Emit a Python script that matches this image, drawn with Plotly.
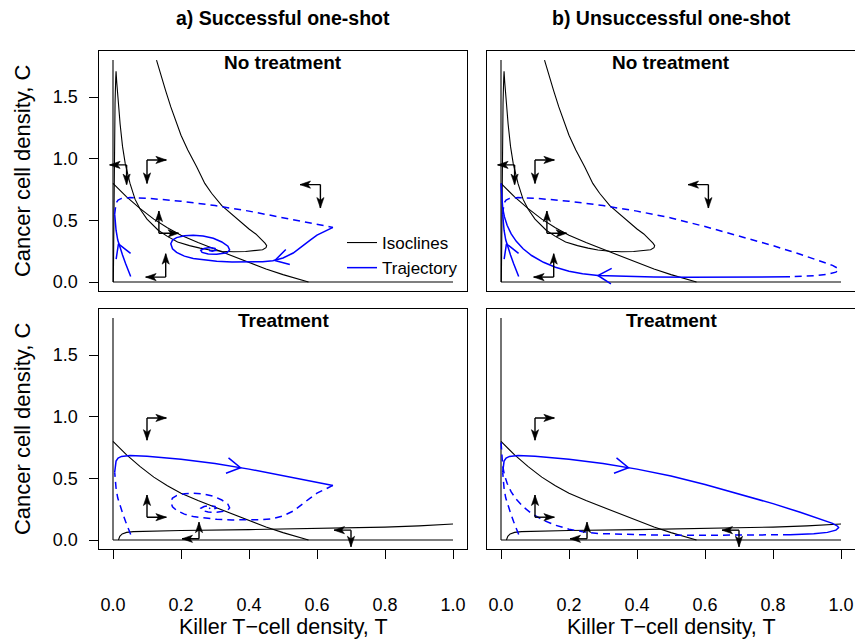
import math
import plotly.graph_objects as go

W, H = 855, 642
X_RANGE = [-0.04, 1.04]
Y_RANGE = [-0.072, 1.872]
COL_PX = [(99.4, 466.6), (487.4, 854.6)]
ROW_PX = [(51.2, 290.9), (309.2, 548.9)]
SX = (COL_PX[0][1] - COL_PX[0][0]) / (X_RANGE[1] - X_RANGE[0])
SY = (ROW_PX[0][1] - ROW_PX[0][0]) / (Y_RANGE[1] - Y_RANGE[0])

# ---------------- data ----------------
X_TICKS = [0.0, 0.2, 0.4, 0.6, 0.8, 1.0]
Y_TICKS = [0.0, 0.5, 1.0, 1.5]
COL_TITLES = ["a) Successful one-shot", "b) Unsuccessful one-shot"]
ROW_TITLES = ["No treatment", "Treatment"]

# trivial isoclines T = 0 and C = 0
AXIS_T = [0.0, 0.0]
AXIS_C = [0.0, 1.8]
BASE_T = [0.0, 1.0]
BASE_C = [0.0, 0.0]

# folded isocline (no treatment)
FOLD_T = [0.001, 0.002, 0.004, 0.006, 0.008, 0.009, 0.011, 0.014, 0.021, 0.028, 0.036,
          0.05, 0.065, 0.08, 0.10, 0.133, 0.16, 0.19, 0.225, 0.256, 0.285, 0.32, 0.354,
          0.39, 0.42, 0.44, 0.45, 0.452, 0.447, 0.435, 0.42, 0.40, 0.37, 0.34, 0.32,
          0.29, 0.27, 0.246, 0.22, 0.20, 0.187, 0.17, 0.155, 0.14, 0.128]
FOLD_C = [0.0, 0.5, 1.1, 1.45, 1.65, 1.71, 1.62, 1.50, 1.28, 1.10, 0.96,
          0.80, 0.67, 0.59, 0.51, 0.42, 0.37, 0.325, 0.295, 0.275, 0.26, 0.25, 0.246,
          0.248, 0.253, 0.262, 0.278, 0.295, 0.315, 0.345, 0.39, 0.43, 0.50, 0.57, 0.62,
          0.72, 0.80, 0.935, 1.07, 1.19, 1.287, 1.42, 1.55, 1.68, 1.80]

# descending isocline (both treatments)
DESC_T = [0.0, 0.04, 0.08, 0.12, 0.16, 0.20, 0.25, 0.30, 0.35, 0.40, 0.45, 0.50, 0.54, 0.575]
DESC_C = [0.80, 0.69, 0.595, 0.51, 0.44, 0.38, 0.32, 0.265, 0.21, 0.155, 0.105, 0.06, 0.025, 0.0]

# flat isocline (treatment)
FLAT_T = [0.016, 0.02, 0.027, 0.04, 0.06, 0.10, 0.20, 0.40, 0.60, 0.80, 0.90, 1.0]
FLAT_C = [0.0, 0.03, 0.05, 0.062, 0.068, 0.072, 0.077, 0.084, 0.092, 0.105, 0.115, 0.13]

# trajectory pieces
SEG_A_T = [0.052, 0.045, 0.037, 0.028, 0.02, 0.014, 0.009, 0.006, 0.005]
SEG_A_C = [0.045, 0.09, 0.15, 0.22, 0.28, 0.34, 0.42, 0.49, 0.55]

SEG_B_T = [0.005, 0.006, 0.009, 0.015, 0.025, 0.05, 0.10, 0.20, 0.30, 0.40, 0.50, 0.60, 0.647]
SEG_B_C = [0.55, 0.60, 0.64, 0.665, 0.678, 0.685, 0.68, 0.655, 0.62, 0.575, 0.52, 0.47, 0.443]

SEG_C_T = [0.647, 0.62, 0.60, 0.58, 0.56, 0.53, 0.50, 0.47, 0.44, 0.40, 0.35, 0.305, 0.26,
           0.236, 0.21, 0.187, 0.175, 0.17, 0.175, 0.187, 0.21, 0.236, 0.265, 0.295, 0.32,
           0.338, 0.343, 0.335, 0.305, 0.28, 0.262, 0.258, 0.268, 0.285, 0.30, 0.303, 0.292,
           0.283, 0.286]
SEG_C_C = [0.443, 0.41, 0.38, 0.34, 0.30, 0.235, 0.195, 0.173, 0.165, 0.162, 0.163, 0.168, 0.18,
           0.19, 0.21, 0.24, 0.27, 0.31, 0.34, 0.36, 0.375, 0.38, 0.373, 0.355, 0.325,
           0.29, 0.26, 0.237, 0.225, 0.227, 0.24, 0.257, 0.272, 0.28, 0.272, 0.258, 0.25,
           0.255, 0.262]

SEG_B2_T = [0.005, 0.006, 0.009, 0.015, 0.025, 0.05, 0.10, 0.20, 0.30, 0.40, 0.50, 0.60,
            0.70, 0.80, 0.88, 0.94, 0.975, 0.99, 0.993, 0.985, 0.96, 0.92, 0.85]
SEG_B2_C = [0.55, 0.60, 0.64, 0.665, 0.678, 0.685, 0.68, 0.655, 0.62, 0.575, 0.52, 0.45,
            0.375, 0.295, 0.225, 0.17, 0.135, 0.112, 0.10, 0.08, 0.062, 0.05, 0.043]

SEG_C2_T = [0.85, 0.75, 0.65, 0.55, 0.45, 0.38, 0.33, 0.285, 0.24, 0.20, 0.16, 0.125, 0.09,
            0.065, 0.045, 0.03, 0.018, 0.01, 0.005, 0.002, 0.0]
SEG_C2_C = [0.043, 0.04, 0.038, 0.038, 0.04, 0.043, 0.047, 0.053, 0.068, 0.088, 0.12, 0.16,
            0.215, 0.27, 0.33, 0.39, 0.46, 0.53, 0.60, 0.70, 0.80]

# direction chevrons on trajectories: tip T, tip C, point behind T, point behind C
CHEV_A = (0.016, 0.31, 0.026, 0.24)
CHEV_C = (0.476, 0.175, 0.51, 0.20)
CHEV_B = (0.375, 0.586, 0.30, 0.62)
CHEV_C2 = (0.285, 0.053, 0.33, 0.047)

# direction-field glyphs: corner T, corner C, horizontal arrow dT, vertical arrow dC
GLYPH_TOP_T = [0.04, 0.10, 0.61, 0.135, 0.155]
GLYPH_TOP_C = [0.95, 0.99, 0.79, 0.395, 0.04]
GLYPH_TOP_DT = [-0.05, 0.057, -0.06, 0.058, -0.059]
GLYPH_TOP_DC = [-0.16, -0.19, -0.19, 0.18, 0.19]

GLYPH_BOT_T = [0.10, 0.10, 0.253, 0.70]
GLYPH_BOT_C = [0.99, 0.185, 0.01, 0.08]
GLYPH_BOT_DT = [0.057, 0.057, -0.05, -0.05]
GLYPH_BOT_DC = [-0.18, 0.18, 0.135, -0.135]

# ---------------- figure ----------------
FONT = "Liberation Sans, Arial, Helvetica, sans-serif"
BLUE = "#0000FF"
fig = go.Figure()

def ax_names(p):
    s = "" if p == 0 else str(p + 1)
    return "x" + s, "y" + s

def chevron(tip_t, tip_c, back_t, back_c, length=15.5, ang=30.0):
    dx = (back_t - tip_t) * SX
    dy = (back_c - tip_c) * SY
    n = math.hypot(dx, dy)
    ux, uy = dx / n, dy / n
    xs, ys = [], []
    for s in (1, -1):
        a = math.radians(ang * s)
        rx = ux * math.cos(a) - uy * math.sin(a)
        ry = ux * math.sin(a) + uy * math.cos(a)
        xs.append(tip_t + rx * length / SX)
        ys.append(tip_c + ry * length / SY)
    return [xs[0], tip_t, xs[1]], [ys[0], tip_c, ys[1]]

def arrow_head(t0, c0, t1, c1, length=10.5, half=3.6, notch=2.6):
    """filled notched head with its tip at (t1, c1), pointing away from (t0, c0)"""
    dx = (t1 - t0) * SX
    dy = (c1 - c0) * SY
    n = math.hypot(dx, dy)
    ux, uy = dx / n, dy / n
    px, py = -uy, ux
    pts = [(0, 0), (-length, half), (-length + notch, 0), (-length, -half), (0, 0)]
    xs = [t1 + (a * ux + b * px) / SX for a, b in pts]
    ys = [c1 + (a * uy + b * py) / SY for a, b in pts]
    return xs, ys

def line(p, t, c, color="black", width=1.1, dash="solid", name=None, legend=False):
    xa, ya = ax_names(p)
    fig.add_trace(go.Scatter(x=t, y=c, mode="lines", xaxis=xa, yaxis=ya,
                             line=dict(color=color, width=width, dash=dash),
                             name=name, showlegend=legend, hoverinfo="skip"))

DASH = "7px,5px"
panels = [
    # (panel, row, isoclines, [(segT, segC, solid)], chevrons)
    (0, 0, [(FOLD_T, FOLD_C), (DESC_T, DESC_C)],
     [(SEG_A_T, SEG_A_C, True), (SEG_B_T, SEG_B_C, False), (SEG_C_T, SEG_C_C, True)],
     [CHEV_A, CHEV_C]),
    (1, 0, [(FOLD_T, FOLD_C), (DESC_T, DESC_C)],
     [(SEG_A_T, SEG_A_C, True), (SEG_B2_T, SEG_B2_C, False), (SEG_C2_T, SEG_C2_C, True)],
     [CHEV_A, CHEV_C2]),
    (2, 1, [(DESC_T, DESC_C), (FLAT_T, FLAT_C)],
     [(SEG_A_T, SEG_A_C, False), (SEG_B_T, SEG_B_C, True), (SEG_C_T, SEG_C_C, False)],
     [CHEV_B]),
    (3, 1, [(DESC_T, DESC_C), (FLAT_T, FLAT_C)],
     [(SEG_A_T, SEG_A_C, False), (SEG_B2_T, SEG_B2_C, True), (SEG_C2_T, SEG_C2_C, False)],
     [CHEV_B]),
]

for p, row, isos, segs, chevs in panels:
    xa, ya = ax_names(p)
    line(p, AXIS_T, AXIS_C, name="Isoclines", legend=(p == 0))
    line(p, BASE_T, BASE_C)
    for t, c in isos:
        line(p, t, c)
    for t, c, solid in segs:
        first_solid = (p == 0 and solid and t is SEG_A_T)
        line(p, t, c, color=BLUE, width=1.5, dash="solid" if solid else DASH,
             name="Trajectory", legend=first_solid)
    for ch in chevs:
        cx, cy = chevron(*ch)
        line(p, cx, cy, color=BLUE, width=1.5)
    if row == 0:
        gt, gc, gdt, gdc = GLYPH_TOP_T, GLYPH_TOP_C, GLYPH_TOP_DT, GLYPH_TOP_DC
    else:
        gt, gc, gdt, gdc = GLYPH_BOT_T, GLYPH_BOT_C, GLYPH_BOT_DT, GLYPH_BOT_DC
    seg_x, seg_y, head_x, head_y = [], [], [], []
    for t, c, dt, dc in zip(gt, gc, gdt, gdc):
        for hx, hy in ((t + dt, c), (t, c + dc)):
            seg_x += [t, hx, None]
            seg_y += [c, hy, None]
            ax_, ay_ = arrow_head(t, c, hx, hy)
            head_x += ax_ + [None]
            head_y += ay_ + [None]
    line(p, seg_x, seg_y, width=1.4)
    fig.add_trace(go.Scatter(x=head_x, y=head_y, mode="lines", fill="toself",
                             fillcolor="black", line=dict(color="black", width=0.6),
                             xaxis=xa, yaxis=ya, showlegend=False, hoverinfo="skip"))

def px_x(v):
    return v / W

def px_y(v):
    return (H - v) / H

annotations = []
for i, txt in enumerate(COL_TITLES):
    cx = (COL_PX[i][0] + COL_PX[i][1]) / 2
    annotations.append(dict(x=px_x(cx), y=px_y(18), xref="paper", yref="paper",
                            text="<b>" + txt + "</b>", showarrow=False,
                            font=dict(family=FONT, size=19.5, color="black"),
                            xanchor="center", yanchor="middle"))
    annotations.append(dict(x=px_x(cx), y=px_y(627), xref="paper", yref="paper",
                            text="Killer T\u2212cell density, T", showarrow=False,
                            font=dict(family=FONT, size=21.5, color="black"),
                            xanchor="center", yanchor="middle"))
for r, txt in enumerate(ROW_TITLES):
    for i in range(2):
        cx = (COL_PX[i][0] + COL_PX[i][1]) / 2
        annotations.append(dict(x=px_x(cx), y=px_y(ROW_PX[r][0] + 11), xref="paper", yref="paper",
                                text="<b>" + txt + "</b>", showarrow=False,
                                font=dict(family=FONT, size=19, color="black"),
                                xanchor="center", yanchor="middle"))
    cy = (ROW_PX[r][0] + ROW_PX[r][1]) / 2
    annotations.append(dict(x=px_x(22), y=px_y(cy), xref="paper", yref="paper",
                            text="Cancer cell density, C", showarrow=False, textangle=-90,
                            font=dict(family=FONT, size=22, color="black"),
                            xanchor="center", yanchor="middle"))

layout = dict(width=W, height=H, margin=dict(l=0, r=0, t=0, b=0),
              paper_bgcolor="white", plot_bgcolor="white",
              font=dict(family=FONT, size=18, color="black"),
              annotations=annotations,
              legend=dict(x=px_x(342), y=px_y(225), xanchor="left", yanchor="top",
                          bgcolor="rgba(0,0,0,0)", font=dict(family=FONT, size=17),
                          tracegroupgap=0, itemwidth=30))

for p in range(4):
    col, row = p % 2, p // 2
    s = "" if p == 0 else str(p + 1)
    xa, ya = ax_names(p)
    xdom = [COL_PX[col][0] / W, COL_PX[col][1] / W]
    ydom = [px_y(ROW_PX[row][1]), px_y(ROW_PX[row][0])]
    xaxis = dict(domain=xdom, range=X_RANGE, anchor=ya, showgrid=False, zeroline=False,
                 showline=True, mirror=True, linecolor="black", linewidth=1,
                 fixedrange=True)
    yaxis = dict(domain=ydom, range=Y_RANGE, anchor=xa, showgrid=False, zeroline=False,
                 showline=True, mirror=True, linecolor="black", linewidth=1,
                 fixedrange=True)
    if row == 1:
        xaxis.update(ticks="outside", ticklen=9, tickwidth=1, tickcolor="black",
                     tickvals=X_TICKS, ticktext=["%.1f" % v for v in X_TICKS],
                     tickfont=dict(family=FONT, size=18, color="black"),
                     ticklabelstandoff=30)
    else:
        xaxis.update(showticklabels=False, ticks="")
    if col == 0:
        yaxis.update(ticks="outside", ticklen=9, tickwidth=1, tickcolor="black",
                     tickvals=Y_TICKS, ticktext=["%.1f" % v for v in Y_TICKS],
                     tickfont=dict(family=FONT, size=18, color="black"),
                     ticklabelstandoff=8)
    else:
        yaxis.update(showticklabels=False, ticks="")
    layout["xaxis" + s] = xaxis
    layout["yaxis" + s] = yaxis

fig.update_layout(**layout)
fig.write_html("out.html")
